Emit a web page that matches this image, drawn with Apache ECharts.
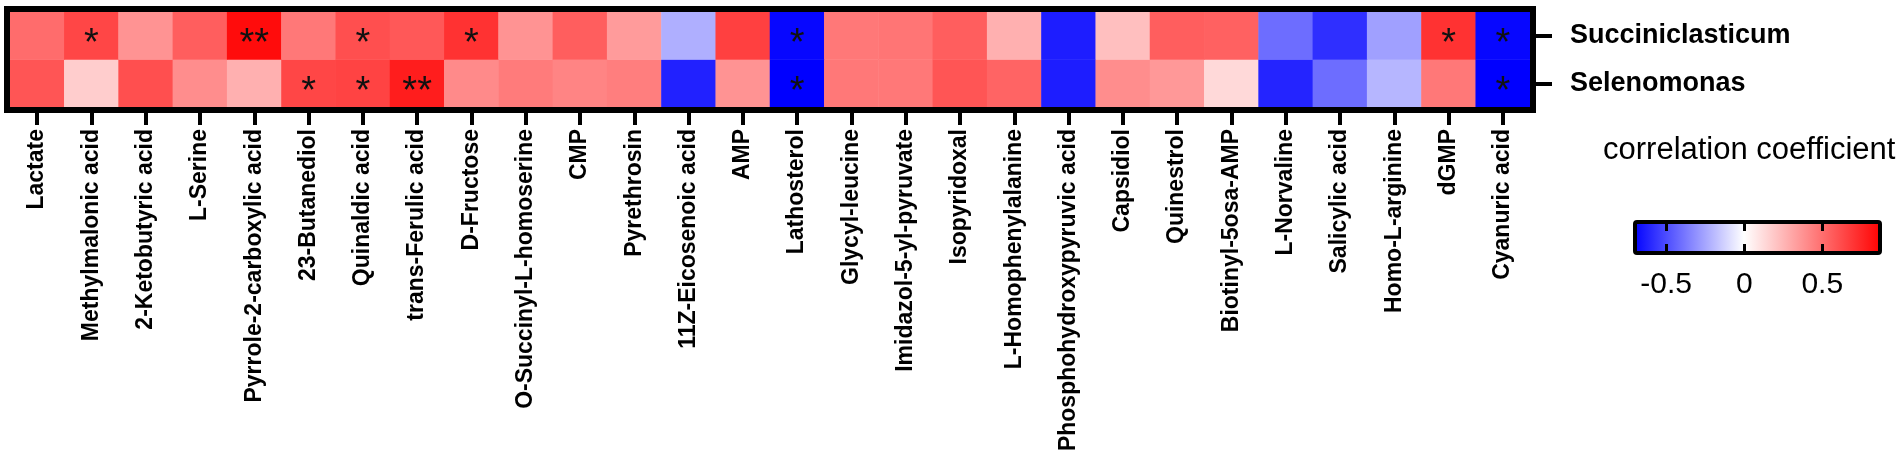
<!DOCTYPE html>
<html>
<head>
<meta charset="utf-8">
<script src="https://cdn.jsdelivr.net/npm/echarts@6/dist/echarts.min.js"></script>
<style>
html,body{margin:0;padding:0;background:#fff;}
#chart{width:1901px;height:476px;}
</style>
</head>
<body>
<div id="chart"></div>
<script>
var metabolites = ['Lactate','Methylmalonic acid','2-Ketobutyric acid','L-Serine','Pyrrole-2-carboxylic acid','23-Butanediol','Quinaldic acid','trans-Ferulic acid','D-Fructose','O-Succinyl-L-homoserine','CMP','Pyrethrosin','11Z-Eicosenoic acid','AMP','Lathosterol','Glycyl-leucine','Imidazol-5-yl-pyruvate','Isopyridoxal','L-Homophenylalanine','Phosphohydroxypyruvic acid','Capsidiol','Quinestrol','Biotinyl-5osa-AMP','L-Norvaline','Salicylic acid','Homo-L-arginine','dGMP','Cyanuric acid'];
var bacteria = ['Selenomonas','Succiniclasticum'];
var succiniclasticum = [0.50,0.63,0.37,0.55,0.83,0.46,0.60,0.57,0.70,0.37,0.55,0.34,-0.22,0.65,-0.68,0.46,0.47,0.55,0.27,-0.62,0.22,0.55,0.54,-0.40,-0.57,-0.26,0.70,-0.68];
var selenomonas = [0.58,0.17,0.60,0.39,0.27,0.63,0.64,0.77,0.40,0.45,0.42,0.44,-0.61,0.37,-0.70,0.46,0.46,0.58,0.53,-0.62,0.39,0.35,0.13,-0.60,-0.40,-0.20,0.46,-0.70];
var succSig = ['','*','','','**','','*','','*','','','','','','*','','','','','','','','','','','','*','*'];
var selSig  = ['','','','','','*','*','**','','','','','','','*','','','','','','','','','','','','','*'];
var colorRange = [-0.7, 0.87];
var colorTicks = [-0.5, 0, 0.5];

function mix(a, b, t){
  return 'rgb(' + [0,1,2].map(function(k){return Math.round(a[k] + (b[k]-a[k])*t);}).join(',') + ')';
}
var BLUE=[0,0,255], WHITE=[255,255,255], RED=[255,0,0];
function colorFor(v){
  if (v < 0) return mix(WHITE, BLUE, Math.min(1, v/colorRange[0]));
  return mix(WHITE, RED, Math.min(1, v/colorRange[1]));
}

var rows = [selenomonas, succiniclasticum];
var sigs = [selSig, succSig];
var data = [];
rows.forEach(function(arr, j){
  arr.forEach(function(v, i){
    data.push({value:[i, j, v], sig: sigs[j][i], itemStyle:{color: colorFor(v)}});
  });
});

var FONT = '"Liberation Sans", Arial, sans-serif';
var G = {left: 10, top: 12, width: 1520, height: 95};
var CB = {left: 1635, top: 222, width: 245, height: 31};
var bw = 6;

var chart = echarts.init(document.getElementById('chart'), null, {renderer:'canvas'});
chart.setOption({
  animation: false,
  backgroundColor: '#fff',
  grid: [
    {left: G.left, top: G.top, width: G.width, height: G.height, containLabel: false},
    {left: CB.left, top: CB.top, width: CB.width, height: CB.height, containLabel: false}
  ],
  xAxis: [
    {type:'category', gridIndex:0, data: metabolites, position:'bottom',
     axisLine:{show:false},
     axisTick:{show:true, alignWithLabel:true, length:18, lineStyle:{color:'#000', width:4}},
     axisLabel:{rotate:90, interval:0, margin:22, fontSize:23, fontWeight:'bold', color:'#000', fontFamily:FONT},
     splitLine:{show:false}},
    {type:'value', gridIndex:1, min: colorRange[0], max: colorRange[1], position:'bottom', z:10,
     axisLine:{show:false},
     axisTick:{show:true, inside:true, length:9, customValues: colorTicks, lineStyle:{color:'#000', width:3}},
     axisLabel:{show:true, customValues: colorTicks, margin:17, fontSize:30, color:'#000', fontFamily:FONT},
     splitLine:{show:false}},
    {type:'value', gridIndex:1, min: colorRange[0], max: colorRange[1], position:'top', z:10,
     axisLine:{show:false},
     axisTick:{show:true, inside:true, length:9, customValues: colorTicks, lineStyle:{color:'#000', width:3}},
     axisLabel:{show:false},
     splitLine:{show:false}}
  ],
  yAxis: [
    {type:'category', gridIndex:0, data: bacteria, position:'right',
     axisLine:{show:false},
     axisTick:{show:true, alignWithLabel:true, length:22, lineStyle:{color:'#000', width:4}},
     axisLabel:{margin:40, fontSize:27, fontWeight:'bold', color:'#000', fontFamily:FONT},
     splitLine:{show:false}},
    {type:'value', gridIndex:1, min:0, max:1, show:false}
  ],
  title: {text:'correlation coefficient', left: 1598, top: 130,
    textStyle:{fontSize:31, fontWeight:'normal', color:'#000', fontFamily:FONT}},
  series: [
    {type:'heatmap', xAxisIndex:0, yAxisIndex:0, data: data,
     itemStyle:{borderWidth:0},
     label:{show:true, formatter:function(p){return p.data.sig;}, fontSize:38, color:'#111', fontFamily:FONT, offset:[0,9]},
     emphasis:{disabled:true}},
    {type:'custom', xAxisIndex:1, yAxisIndex:1, z:2,
     data:[[colorRange[0], colorRange[1]]],
     renderItem:function(params, api){
       var p0 = api.coord([api.value(0), 1]);
       var p1 = api.coord([api.value(1), 0]);
       var zeroFrac = (0 - colorRange[0])/(colorRange[1]-colorRange[0]);
       return {type:'rect', shape:{x:p0[0], y:p0[1], width:p1[0]-p0[0], height:p1[1]-p0[1], r:2},
         style:{fill:new echarts.graphic.LinearGradient(0,0,1,0,[
           {offset:0, color:'rgb(0,0,255)'},{offset:zeroFrac, color:'#fff'},{offset:1, color:'rgb(255,0,0)'}]),
           stroke:'#000', lineWidth:4}};
     }}
  ],
  graphic: [
    {type:'rect', z:100, silent:true,
     shape:{x:G.left-bw/2, y:G.top-bw/2, width:G.width+bw, height:G.height+bw},
     style:{fill:null, stroke:'#000', lineWidth:bw}}
  ]
});
</script>
</body>
</html>
